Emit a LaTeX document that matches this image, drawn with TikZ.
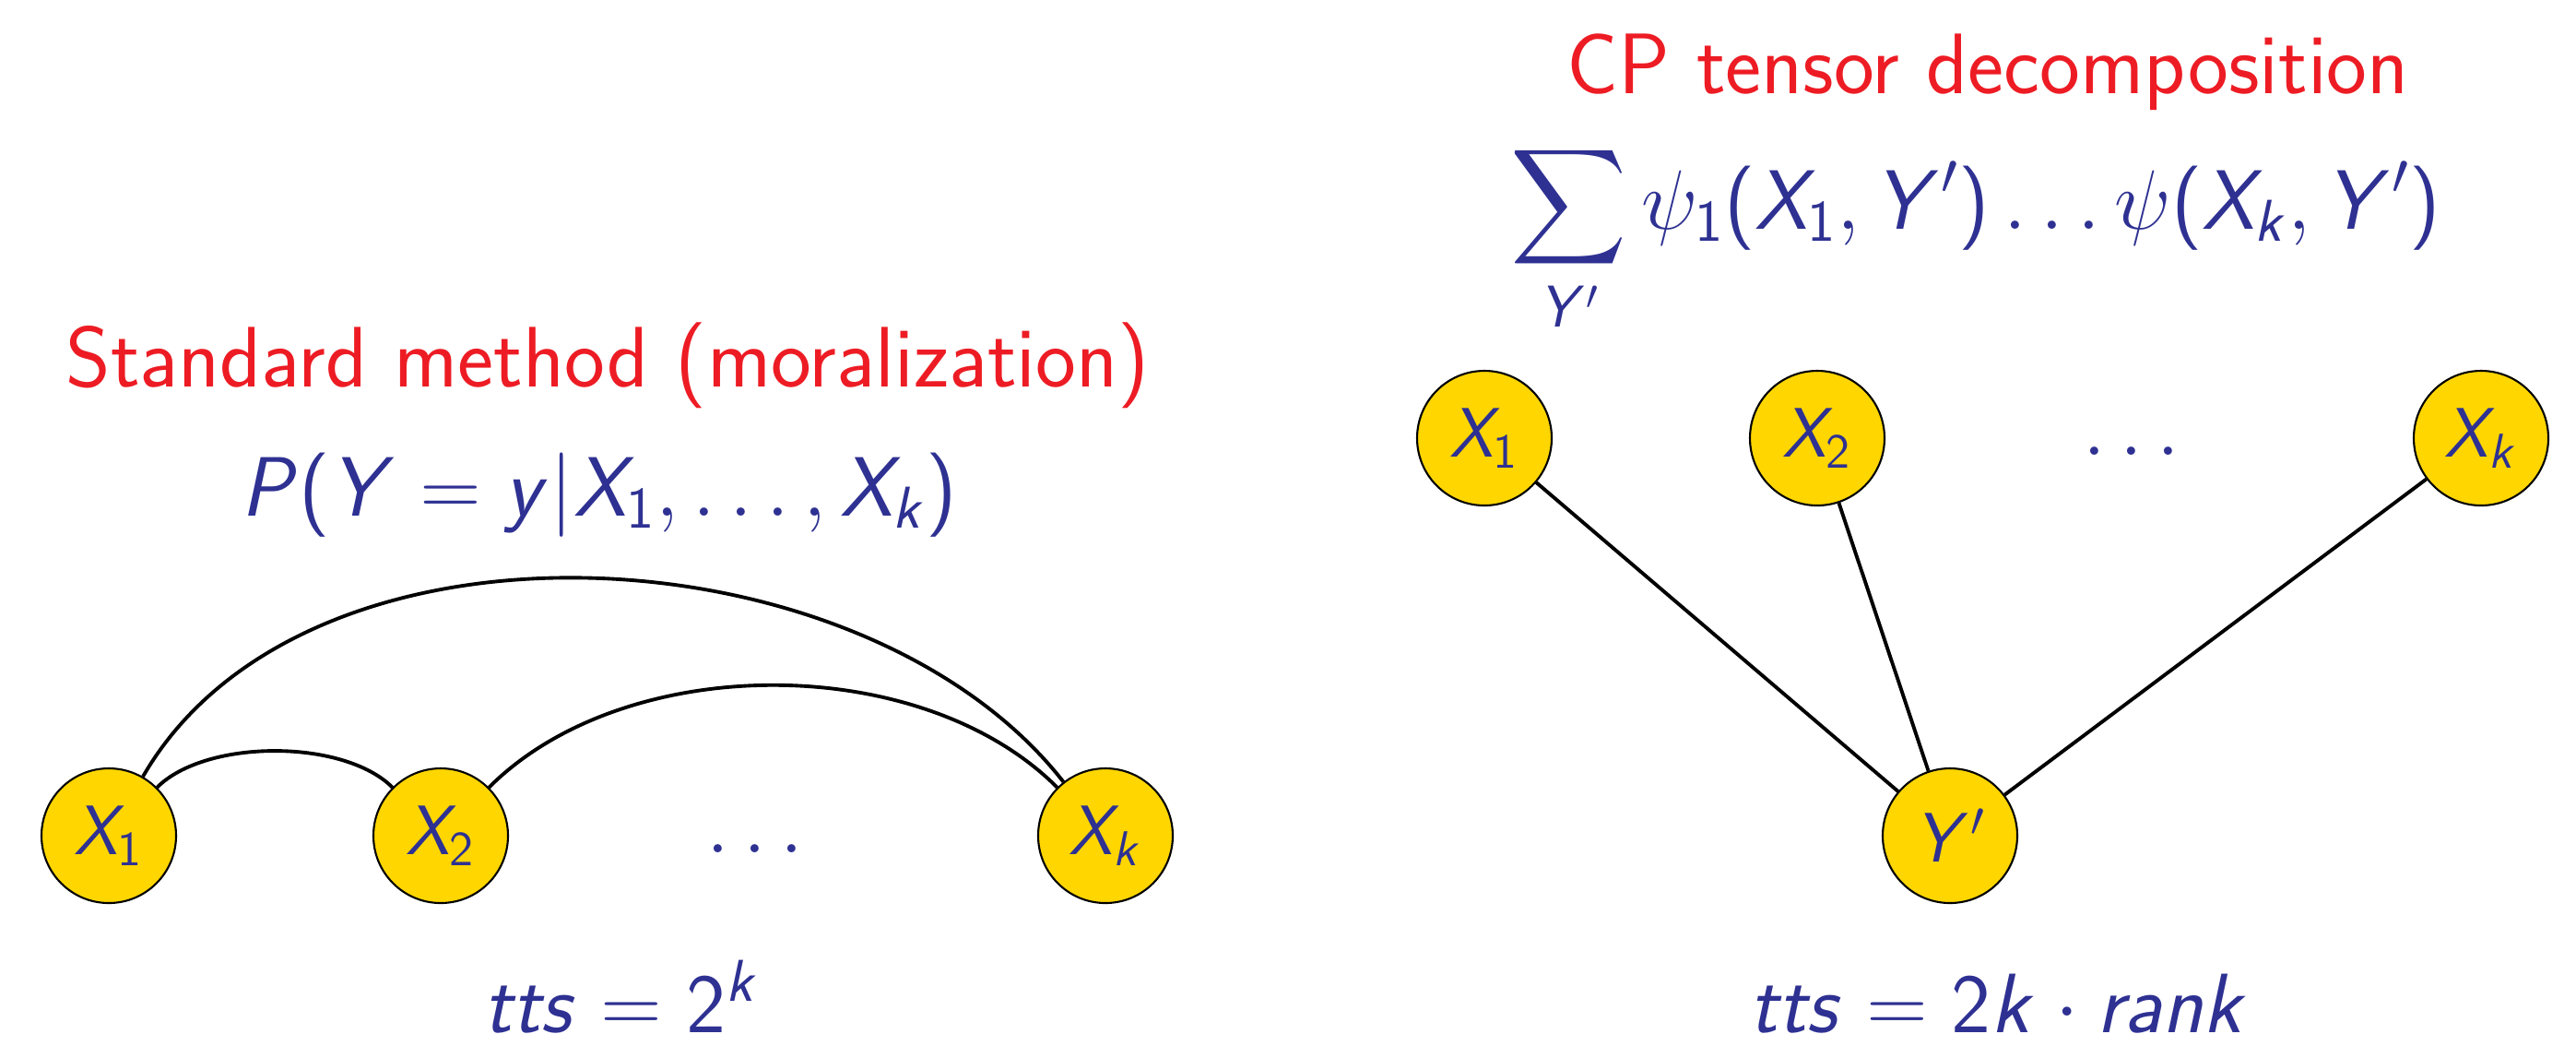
\documentclass[tikz,border=0pt]{standalone}
\usepackage{fix-cm}
\usepackage{exscale}
\usepackage{xcolor}
\usepackage{tikz}
\usetikzlibrary{positioning}
\definecolor{slidered}{RGB}{237, 28, 36}
\definecolor{slideblue}{RGB}{46, 49, 146}
\definecolor{nodegold}{RGB}{255, 214, 0}
% sans serif math letters, beamer style
\DeclareSymbolFont{sfletters}{OT1}{cmss}{m}{sl}
\SetSymbolFont{operators}{normal}{OT1}{cmss}{m}{n}
\DeclareMathSymbol{P}{\mathalpha}{sfletters}{`P}
\DeclareMathSymbol{X}{\mathalpha}{sfletters}{`X}
\DeclareMathSymbol{Y}{\mathalpha}{sfletters}{`Y}
\DeclareMathSymbol{y}{\mathalpha}{sfletters}{`y}
\DeclareMathSymbol{k}{\mathalpha}{sfletters}{`k}
\DeclareMathSymbol{t}{\mathalpha}{sfletters}{`t}
\DeclareMathSymbol{s}{\mathalpha}{sfletters}{`s}
\DeclareMathSymbol{r}{\mathalpha}{sfletters}{`r}
\DeclareMathSymbol{a}{\mathalpha}{sfletters}{`a}
\DeclareMathSymbol{n}{\mathalpha}{sfletters}{`n}
\DeclareMathSizes{26}{26}{18.2}{13}
\DeclareMathSizes{21.6}{21.6}{15.1}{10.8}
\tikzset{
    varnode/.style={draw, circle, line width=0.6pt, fill=nodegold, text=slideblue, inner sep=0pt, minimum size=1.46cm, font=\fontsize{21.6}{26}\selectfont},
    redtitle/.style={text=slidered, anchor=base, inner sep=0pt, font=\fontsize{26.5}{32}\selectfont\sffamily},
    bluemath/.style={text=slideblue, anchor=base, inner sep=0pt, font=\fontsize{26}{31}\selectfont},
    moral/.style={line width=1.1pt}
}

\begin{document}
\begin{tikzpicture}
    \useasboundingbox (0,0) rectangle (27.94,-11.33);

    % left: moralized graph
    \node[redtitle] (stdtitle) at (6.59,-4.19) {Standard method (moralization)};
    \node[bluemath] (condprob) at (6.50,-5.59) {$P(Y = y|X_1, \ldots, X_k)$};
    \node[varnode] (lx1) at (1.18,-9.06) {$X_1$};
    \node[varnode] (lx2) at (4.78,-9.06) {$X_2$};
    \node[bluemath] (ldots) at (8.19,-9.24) {$\ldots$};
    \node[varnode] (lxk) at (11.99,-9.06) {$X_k$};
    \node[bluemath] (ltts) at (6.74,-11.19) {$tts = 2^k$};

    \draw[moral] (lx1) to[out=45, in=135, looseness=0.75] (lx2);
    \draw[moral] (lx2) to[out=45, in=135, looseness=0.87] (lxk);
    \draw[moral] (lx1) to[out=60, in=128, looseness=0.9] (lxk);

    % right: CP decomposition
    \node[redtitle] (cptitle) at (21.56,-1.01) {CP tensor decomposition};
    \node[bluemath] (cpsum) at (21.43,-2.48) {$\displaystyle\sum_{Y'} \psi_1(X_1, Y') \ldots \psi(X_k, Y')$};
    \node[varnode] (rx1) at (16.10,-4.75) {$X_1$};
    \node[varnode] (rx2) at (19.71,-4.75) {$X_2$};
    \node[bluemath] (rdots) at (23.12,-4.93) {$\ldots$};
    \node[varnode] (rxk) at (26.91,-4.75) {$X_k$};
    \node[varnode] (ry) at (21.15,-9.06) {$Y'$};
    \node[bluemath] (rtts) at (21.68,-11.19) {$tts = 2k \cdot rank$};

    \draw[moral] (rx1) -- (ry);
    \draw[moral] (rx2) -- (ry);
    \draw[moral] (rxk) -- (ry);
\end{tikzpicture}
\end{document}
